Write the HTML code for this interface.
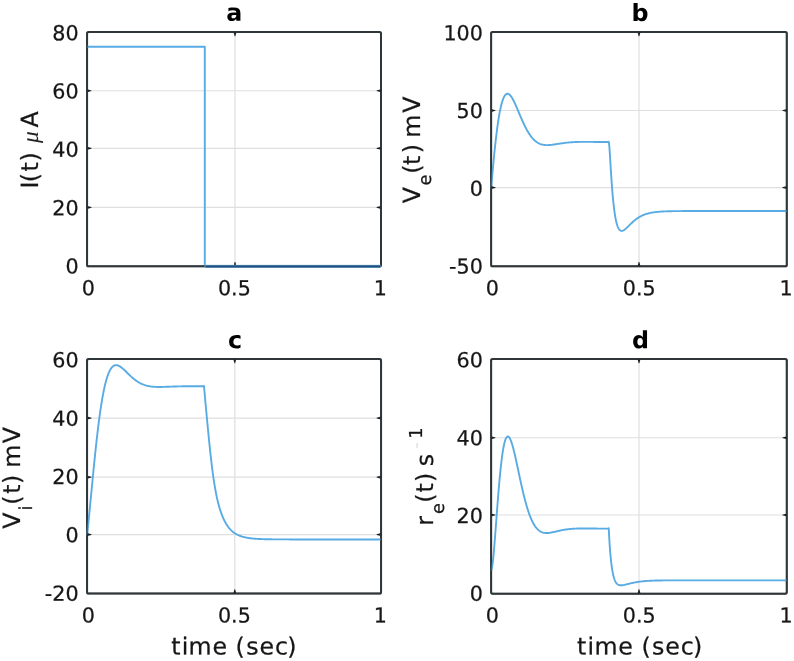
<!DOCTYPE html>
<html lang="en"><head><meta charset="utf-8"><title>Figure</title>
<style>
html,body{margin:0;padding:0;background:#fff;}
svg{display:block;width:794px;height:661px;will-change:transform;filter:blur(0.4px);}
text{font-family:"DejaVu Sans","Liberation Sans",sans-serif;text-rendering:geometricPrecision;}
.tk{font-size:20.7px;fill:#161616;stroke:#161616;stroke-width:0.25px;}
.lb{font-size:23.7px;fill:#161616;stroke:#161616;stroke-width:0.25px;}
.tt{font-size:23.8px;font-weight:bold;fill:#000;}
.ax{fill:none;stroke:#30373a;stroke-width:2.0;stroke-linejoin:round;}
.tick{fill:#1c2022;stroke:none;}
.gr{stroke:#dfdfdf;stroke-width:1.2;}
.ln{fill:none;stroke:#58ace3;stroke-width:1.9;stroke-linejoin:round;stroke-linecap:butt;}
</style></head><body>
<svg width="794" height="661" viewBox="0 0 794 661" role="img" aria-label="Four panel figure: input current and model responses versus time">
<rect x="0" y="0" width="794" height="661" fill="#fff"/>
<g id="panel-a">
<line class="gr" x1="87.05" x2="381" y1="207.45" y2="207.45"/>
<line class="gr" x1="87.05" x2="381" y1="148.3" y2="148.3"/>
<line class="gr" x1="87.05" x2="381" y1="90.75" y2="90.75"/>
<line class="gr" x1="235" x2="235" y1="31.9" y2="266.35"/>
<rect class="ax" x="87.05" y="31.9" width="293.95" height="234.45" rx="1.6"/>
<path class="ln" d="M87.05,46.8L204.8,46.8L204.8,266.35L381,266.35"/>
<path class="tick" d="M87.05,205.95L91.45,207.1L91.45,207.8L87.05,208.95Z"/>
<path class="tick" d="M381,205.95L376.6,207.1L376.6,207.8L381,208.95Z"/>
<path class="tick" d="M87.05,146.8L91.45,147.95L91.45,148.65L87.05,149.8Z"/>
<path class="tick" d="M381,146.8L376.6,147.95L376.6,148.65L381,149.8Z"/>
<path class="tick" d="M87.05,89.25L91.45,90.4L91.45,91.1L87.05,92.25Z"/>
<path class="tick" d="M381,89.25L376.6,90.4L376.6,91.1L381,92.25Z"/>
<path class="tick" d="M233.5,266.35L234.65,261.95L235.35,261.95L236.5,266.35Z"/>
<path class="tick" d="M233.5,31.9L234.65,36.3L235.35,36.3L236.5,31.9Z"/>
<line x1="205" x2="381" y1="266.35" y2="266.35" stroke="#9fd3f0" stroke-width="3.4"/>
<rect class="ax" opacity="0.55" x="87.05" y="31.9" width="293.95" height="234.45" rx="1.6"/>
<line x1="205.6" x2="380.4" y1="266.45" y2="266.45" stroke="#1b4f86" stroke-width="2.1"/>
<text class="tk" text-anchor="end" transform="rotate(0.03 78.6 273.48)" x="78.6" y="273.48">0</text>
<text class="tk" text-anchor="end" transform="rotate(0.03 78.6 215.18)" x="78.6" y="215.18">20</text>
<text class="tk" text-anchor="end" transform="rotate(0.03 78.6 156.88)" x="78.6" y="156.88">40</text>
<text class="tk" text-anchor="end" transform="rotate(0.03 78.6 98.58)" x="78.6" y="98.58">60</text>
<text class="tk" text-anchor="end" transform="rotate(0.03 78.6 40.28)" x="78.6" y="40.28">80</text>
<text class="tk" text-anchor="middle" transform="rotate(0.03 88.35 295.2)" x="88.35" y="295.2">0</text>
<text class="tk" text-anchor="middle" transform="rotate(0.03 234.38 295.2)" x="234.38" y="295.2">0.5</text>
<text class="tk" text-anchor="middle" transform="rotate(0.03 380.4 295.2)" x="380.4" y="295.2">1</text>
<text class="tt" text-anchor="middle" transform="rotate(0.03 234.3 20.8)" x="234.3" y="20.8">a</text>
</g>
<g id="panel-b">
<line class="gr" x1="491.1" x2="786.8" y1="187.6" y2="187.6"/>
<line class="gr" x1="491.1" x2="786.8" y1="110.5" y2="110.5"/>
<line class="gr" x1="639" x2="639" y1="31.95" y2="266.35"/>
<rect class="ax" x="491.1" y="31.95" width="295.7" height="234.4" rx="1.6"/>
<path class="ln" d="M491.2,187.8L491.26,187.1L491.32,186.41L491.38,185.71L491.44,185.01L491.49,184.32L491.55,183.62L491.61,182.92L491.67,182.23L491.73,181.53L491.79,180.83L491.85,180.14L491.91,179.44L491.97,178.74L492.03,178.05L492.09,177.35L492.15,176.65L492.22,175.96L492.28,175.26L492.34,174.56L492.4,173.87L492.46,173.17L492.52,172.47L492.59,171.78L492.65,171.08L492.71,170.39L492.77,169.69L492.84,168.99L492.9,168.3L492.96,167.6L493.03,166.91L493.09,166.21L493.16,165.51L493.22,164.82L493.29,164.12L493.35,163.43L493.42,162.73L493.48,162.04L493.55,161.34L493.62,160.65L493.68,159.95L493.75,159.25L493.82,158.56L493.88,157.86L493.95,157.17L494.02,156.47L494.09,155.78L494.16,155.08L494.23,154.39L494.3,153.69L494.37,153L494.44,152.3L494.51,151.61L494.58,150.91L494.65,150.22L494.72,149.53L494.8,148.83L494.87,148.14L494.94,147.44L495.02,146.75L495.09,146.05L495.17,145.36L495.24,144.67L495.32,143.97L495.39,143.28L495.47,142.59L495.55,141.89L495.63,141.2L495.71,140.51L495.78,139.81L495.86,139.12L495.94,138.43L496.03,137.73L496.11,137.04L496.19,136.35L496.27,135.66L496.36,134.96L496.44,134.27L496.53,133.58L496.61,132.89L496.7,132.2L496.79,131.5L496.88,130.81L496.97,130.12L497.06,129.43L497.15,128.74L497.24,128.05L497.33,127.36L497.43,126.67L497.52,125.98L497.62,125.29L497.72,124.6L497.81,123.91L497.91,123.22L498.02,122.53L498.12,121.85L498.22,121.16L498.33,120.47L498.43,119.78L498.54,119.1L498.65,118.41L498.76,117.72L498.88,117.04L498.99,116.35L499.11,115.67L499.23,114.98L499.35,114.3L499.47,113.62L499.6,112.93L499.72,112.25L499.85,111.57L499.99,110.89L500.12,110.21L500.26,109.53L500.4,108.85L500.55,108.18L500.7,107.5L500.85,106.83L501.01,106.16L501.17,105.48L501.34,104.82L501.51,104.15L501.69,103.48L501.87,102.82L502.06,102.16L502.26,101.5L502.47,100.85L502.68,100.2L502.91,99.56L503.15,98.92L503.4,98.29L503.67,97.66L503.96,97.05L504.27,96.46L504.61,95.88L504.98,95.33L505.4,94.82L505.87,94.36L506.41,94L507.02,93.77L507.71,93.74L508.4,93.93L509.05,94.29L509.62,94.75L510.14,95.27L510.61,95.83L511.05,96.4L511.46,96.99L511.85,97.59L512.22,98.2L512.58,98.82L512.92,99.44L513.25,100.07L513.58,100.69L513.9,101.33L514.21,101.96L514.51,102.6L514.81,103.24L515.11,103.88L515.4,104.52L515.69,105.16L515.97,105.8L516.26,106.45L516.54,107.09L516.81,107.73L517.09,108.38L517.36,109.02L517.64,109.67L517.91,110.32L518.18,110.96L518.45,111.61L518.73,112.25L519,112.9L519.27,113.54L519.54,114.19L519.81,114.83L520.08,115.48L520.36,116.12L520.63,116.76L520.91,117.4L521.18,118.04L521.46,118.69L521.74,119.33L522.02,119.96L522.3,120.6L522.59,121.24L522.88,121.87L523.17,122.51L523.46,123.14L523.75,123.77L524.05,124.4L524.35,125.03L524.66,125.65L524.96,126.28L525.28,126.9L525.59,127.52L525.91,128.14L526.24,128.75L526.57,129.36L526.9,129.97L527.24,130.58L527.58,131.18L527.94,131.78L528.29,132.37L528.66,132.96L529.03,133.55L529.41,134.13L529.8,134.7L530.19,135.27L530.59,135.84L531.01,136.39L531.43,136.94L531.87,137.48L532.31,138L532.77,138.52L533.24,139.03L533.72,139.53L534.21,140.01L534.72,140.48L535.24,140.93L535.78,141.37L536.33,141.78L536.89,142.18L537.47,142.55L538.07,142.91L538.68,143.23L539.3,143.54L539.94,143.81L540.59,144.06L541.25,144.28L541.91,144.48L542.59,144.64L543.27,144.78L543.96,144.89L544.65,144.98L545.35,145.05L546.05,145.09L546.75,145.11L547.45,145.11L548.15,145.1L548.85,145.07L549.55,145.03L550.24,144.97L550.94,144.91L551.64,144.83L552.33,144.75L553.03,144.66L553.72,144.56L554.42,144.46L555.11,144.36L555.8,144.25L556.49,144.14L557.18,144.03L557.87,143.92L558.57,143.81L559.26,143.7L559.95,143.6L560.64,143.49L561.33,143.39L562.02,143.28L562.72,143.19L563.41,143.09L564.1,143L564.8,142.91L565.49,142.82L566.19,142.74L566.88,142.66L567.58,142.59L568.28,142.52L568.97,142.45L569.67,142.39L570.37,142.33L571.06,142.28L571.76,142.23L572.46,142.18L573.16,142.14L573.86,142.1L574.56,142.06L575.26,142.03L575.96,142L576.65,141.98L577.35,141.95L578.05,141.93L578.75,141.92L579.45,141.9L580.15,141.89L580.85,141.88L581.55,141.87L582.25,141.87L582.95,141.86L583.65,141.86L584.35,141.86L585.05,141.86L585.75,141.86L586.45,141.86L587.15,141.86L587.85,141.87L588.55,141.87L589.25,141.88L589.95,141.89L590.65,141.89L591.35,141.9L592.05,141.91L592.75,141.92L593.45,141.92L594.15,141.93L594.85,141.94L595.55,141.95L596.25,141.96L596.95,141.97L597.65,141.97L598.35,141.98L599.05,141.99L599.75,142L600.45,142.01L601.15,142.01L601.85,142.02L602.55,142.03L603.25,142.03L603.95,142.04L604.65,142.05L605.35,142.05L606.05,142.06L606.75,142.06L607.45,142.07L608.15,142.07L608.7,142.07L608.7,141.7L609.26,145.54L609.32,146.25L609.38,146.96L609.43,147.67L609.49,148.38L609.54,149.09L609.59,149.79L609.63,150.49L609.68,151.2L609.73,151.9L609.77,152.6L609.82,153.3L609.86,154.01L609.91,154.71L609.95,155.41L610,156.11L610.04,156.81L610.08,157.51L610.13,158.21L610.17,158.91L610.21,159.61L610.25,160.3L610.3,161L610.34,161.7L610.38,162.4L610.43,163.1L610.47,163.8L610.51,164.5L610.55,165.19L610.6,165.89L610.64,166.59L610.68,167.29L610.73,167.99L610.77,168.68L610.81,169.38L610.86,170.08L610.9,170.78L610.94,171.47L610.99,172.17L611.03,172.87L611.08,173.56L611.12,174.26L611.17,174.96L611.21,175.65L611.26,176.35L611.31,177.05L611.35,177.74L611.4,178.44L611.45,179.14L611.5,179.83L611.54,180.53L611.59,181.22L611.64,181.92L611.69,182.62L611.74,183.31L611.79,184.01L611.84,184.7L611.89,185.4L611.95,186.09L612,186.79L612.05,187.48L612.1,188.18L612.16,188.87L612.21,189.57L612.27,190.26L612.32,190.96L612.38,191.65L612.44,192.34L612.5,193.04L612.56,193.73L612.62,194.42L612.68,195.12L612.74,195.81L612.8,196.5L612.86,197.2L612.93,197.89L612.99,198.58L613.06,199.27L613.13,199.97L613.2,200.66L613.26,201.35L613.34,202.04L613.41,202.73L613.48,203.42L613.55,204.11L613.63,204.8L613.71,205.49L613.79,206.18L613.87,206.87L613.95,207.56L614.03,208.25L614.12,208.94L614.21,209.62L614.3,210.31L614.39,211L614.48,211.68L614.58,212.37L614.68,213.05L614.78,213.74L614.88,214.42L614.99,215.1L615.1,215.78L615.22,216.46L615.34,217.14L615.46,217.82L615.58,218.5L615.72,219.17L615.85,219.84L615.99,220.52L616.14,221.19L616.3,221.85L616.46,222.52L616.63,223.18L616.81,223.84L617,224.49L617.2,225.14L617.42,225.78L617.65,226.41L617.9,227.04L618.17,227.65L618.47,228.25L618.8,228.82L619.17,229.36L619.59,229.86L620.08,230.3L620.64,230.63L621.27,230.83L621.96,230.85L622.66,230.7L623.33,230.43L623.96,230.08L624.55,229.68L625.12,229.25L625.67,228.8L626.2,228.33L626.72,227.85L627.23,227.36L627.73,226.87L628.23,226.38L628.72,225.88L629.22,225.38L629.71,224.89L630.21,224.4L630.71,223.91L631.21,223.42L631.71,222.94L632.22,222.47L632.73,221.99L633.25,221.53L633.78,221.07L634.31,220.62L634.85,220.18L635.39,219.75L635.94,219.33L636.5,218.91L637.07,218.51L637.64,218.12L638.23,217.74L638.82,217.37L639.41,217.01L640.02,216.67L640.63,216.34L641.25,216.02L641.88,215.72L642.51,215.43L643.15,215.15L643.79,214.88L644.44,214.63L645.1,214.39L645.76,214.17L646.42,213.96L647.09,213.75L647.76,213.56L648.44,213.39L649.12,213.22L649.8,213.06L650.48,212.92L651.17,212.78L651.86,212.65L652.54,212.53L653.23,212.42L653.93,212.32L654.62,212.22L655.31,212.13L656.01,212.05L656.7,211.97L657.4,211.9L658.1,211.83L658.79,211.77L659.49,211.71L660.19,211.66L660.89,211.61L661.58,211.57L662.28,211.52L662.98,211.49L663.68,211.45L664.38,211.42L665.08,211.39L665.78,211.36L666.48,211.33L667.18,211.31L667.88,211.29L668.58,211.26L669.28,211.25L669.98,211.23L670.68,211.21L671.38,211.2L672.08,211.18L672.78,211.17L673.48,211.16L674.18,211.15L674.88,211.14L675.58,211.13L676.28,211.12L676.98,211.11L677.68,211.11L678.38,211.1L679.08,211.1L679.78,211.09L680.48,211.08L681.18,211.08L681.88,211.08L682.58,211.07L683.28,211.07L683.98,211.07L684.68,211.06L685.38,211.06L686.08,211.06L686.78,211.05L687.48,211.05L688.18,211.05L688.88,211.05L689.58,211.05L690.28,211.05L690.98,211.04L691.68,211.04L692.38,211.04L693.08,211.04L693.78,211.04L694.48,211.04L695.18,211.04L695.88,211.04L696.58,211.04L697.28,211.04L697.98,211.04L698.68,211.03L699.38,211.03L700.08,211.03L700.78,211.03L701.48,211.03L702.18,211.03L702.88,211.03L703.58,211.03L704.28,211.03L704.98,211.03L705.68,211.03L706.38,211.03L707.08,211.03L707.78,211.03L708.48,211.03L709.18,211.03L709.88,211.03L710.58,211.03L711.28,211.03L711.98,211.03L712.68,211.03L713.38,211.03L714.08,211.03L714.78,211.03L715.48,211.03L716.18,211.03L716.88,211.03L717.58,211.03L718.28,211.03L718.98,211.03L719.68,211.03L720.38,211.03L721.08,211.03L721.78,211.03L722.48,211.03L723.18,211.03L723.88,211.03L724.58,211.03L725.28,211.03L725.98,211.03L726.68,211.03L727.38,211.03L728.08,211.03L728.78,211.03L729.48,211.03L730.18,211.03L730.88,211.03L731.58,211.03L732.28,211.03L732.98,211.03L733.68,211.03L734.38,211.03L735.08,211.03L735.78,211.03L736.48,211.03L737.18,211.03L737.88,211.03L738.58,211.03L739.28,211.03L739.98,211.03L740.68,211.03L741.38,211.03L742.08,211.03L742.78,211.03L743.48,211.03L744.18,211.03L744.88,211.03L745.58,211.03L746.28,211.03L746.98,211.03L747.68,211.03L748.38,211.03L749.08,211.03L749.78,211.03L750.48,211.03L751.18,211.03L751.88,211.03L752.58,211.03L753.28,211.03L753.98,211.03L754.68,211.03L755.38,211.03L756.08,211.03L756.78,211.03L757.48,211.03L758.18,211.03L758.88,211.03L759.58,211.03L760.28,211.03L760.98,211.03L761.68,211.03L762.38,211.03L763.08,211.03L763.78,211.03L764.48,211.03L765.18,211.03L765.88,211.03L766.58,211.03L767.28,211.03L767.98,211.03L768.68,211.03L769.38,211.03L770.08,211.03L770.78,211.03L771.48,211.03L772.18,211.03L772.88,211.03L773.58,211.03L774.28,211.03L774.98,211.03L775.68,211.03L776.38,211.03L777.08,211.03L777.78,211.03L778.48,211.03L779.18,211.03L779.88,211.03L780.58,211.03L781.28,211.03L781.98,211.03L782.68,211.03L783.38,211.03L784.08,211.03L784.78,211.03L785.48,211.03L786.18,211.03L786.8,211.03"/>
<path class="tick" d="M491.1,186.1L495.5,187.25L495.5,187.95L491.1,189.1Z"/>
<path class="tick" d="M786.8,186.1L782.4,187.25L782.4,187.95L786.8,189.1Z"/>
<path class="tick" d="M491.1,109L495.5,110.15L495.5,110.85L491.1,112Z"/>
<path class="tick" d="M786.8,109L782.4,110.15L782.4,110.85L786.8,112Z"/>
<path class="tick" d="M637.5,266.35L638.65,261.95L639.35,261.95L640.5,266.35Z"/>
<path class="tick" d="M637.5,31.95L638.65,36.35L639.35,36.35L640.5,31.95Z"/>
<rect class="ax" opacity="0.55" x="491.1" y="31.95" width="295.7" height="234.4" rx="1.6"/>
<text class="tk" text-anchor="end" transform="rotate(0.03 482.9 273.48)" x="482.9" y="273.48">-50</text>
<text class="tk" text-anchor="end" transform="rotate(0.03 482.9 195.77)" x="482.9" y="195.77">0</text>
<text class="tk" text-anchor="end" transform="rotate(0.03 482.9 118.05)" x="482.9" y="118.05">50</text>
<text class="tk" text-anchor="end" transform="rotate(0.03 482.9 40.33)" x="482.9" y="40.33">100</text>
<text class="tk" text-anchor="middle" transform="rotate(0.03 492.4 295.2)" x="492.4" y="295.2">0</text>
<text class="tk" text-anchor="middle" transform="rotate(0.03 639.3 295.2)" x="639.3" y="295.2">0.5</text>
<text class="tk" text-anchor="middle" transform="rotate(0.03 786.2 295.2)" x="786.2" y="295.2">1</text>
<text class="tt" text-anchor="middle" transform="rotate(0.03 640.1 20.9)" x="640.1" y="20.9">b</text>
</g>
<g id="panel-c">
<line class="gr" x1="87.05" x2="381.05" y1="534.6" y2="534.6"/>
<line class="gr" x1="87.05" x2="381.05" y1="477.15" y2="477.15"/>
<line class="gr" x1="87.05" x2="381.05" y1="418.05" y2="418.05"/>
<line class="gr" x1="234.8" x2="234.8" y1="358.95" y2="593.6"/>
<rect class="ax" x="87.05" y="358.95" width="294" height="234.65" rx="1.6"/>
<path class="ln" d="M87.05,534.9L87.13,534.2L87.21,533.5L87.29,532.81L87.37,532.11L87.44,531.41L87.52,530.71L87.6,530.02L87.67,529.32L87.75,528.62L87.82,527.92L87.9,527.22L87.97,526.53L88.05,525.83L88.12,525.13L88.19,524.43L88.27,523.74L88.34,523.04L88.41,522.34L88.49,521.64L88.56,520.95L88.63,520.25L88.7,519.55L88.77,518.85L88.84,518.16L88.91,517.46L88.98,516.76L89.05,516.07L89.12,515.37L89.19,514.67L89.26,513.97L89.33,513.28L89.4,512.58L89.47,511.88L89.54,511.18L89.61,510.49L89.68,509.79L89.74,509.09L89.81,508.4L89.88,507.7L89.95,507L90.02,506.3L90.08,505.61L90.15,504.91L90.22,504.21L90.29,503.52L90.35,502.82L90.42,502.12L90.49,501.42L90.56,500.73L90.62,500.03L90.69,499.33L90.76,498.64L90.83,497.94L90.89,497.24L90.96,496.55L91.03,495.85L91.09,495.15L91.16,494.45L91.23,493.76L91.29,493.06L91.36,492.36L91.43,491.67L91.49,490.97L91.56,490.27L91.63,489.58L91.7,488.88L91.76,488.18L91.83,487.49L91.9,486.79L91.96,486.09L92.03,485.4L92.1,484.7L92.16,484L92.23,483.31L92.3,482.61L92.37,481.91L92.43,481.22L92.5,480.52L92.57,479.82L92.64,479.13L92.7,478.43L92.77,477.74L92.84,477.04L92.91,476.34L92.97,475.65L93.04,474.95L93.11,474.25L93.18,473.56L93.25,472.86L93.32,472.17L93.38,471.47L93.45,470.77L93.52,470.08L93.59,469.38L93.66,468.68L93.73,467.99L93.8,467.29L93.87,466.6L93.94,465.9L94.01,465.2L94.08,464.51L94.14,463.81L94.22,463.12L94.29,462.42L94.36,461.73L94.43,461.03L94.5,460.33L94.57,459.64L94.64,458.94L94.71,458.25L94.78,457.55L94.85,456.86L94.92,456.16L95,455.47L95.07,454.77L95.14,454.07L95.21,453.38L95.29,452.68L95.36,451.99L95.43,451.29L95.51,450.6L95.58,449.9L95.65,449.21L95.73,448.51L95.8,447.82L95.88,447.12L95.95,446.43L96.03,445.73L96.1,445.04L96.18,444.34L96.26,443.65L96.33,442.96L96.41,442.26L96.49,441.57L96.56,440.87L96.64,440.18L96.72,439.48L96.8,438.79L96.88,438.09L96.96,437.4L97.04,436.71L97.12,436.01L97.2,435.32L97.28,434.62L97.36,433.93L97.44,433.24L97.52,432.54L97.6,431.85L97.68,431.16L97.77,430.46L97.85,429.77L97.93,429.08L98.02,428.38L98.1,427.69L98.19,427L98.27,426.3L98.36,425.61L98.45,424.92L98.53,424.22L98.62,423.53L98.71,422.84L98.8,422.15L98.89,421.46L98.98,420.76L99.07,420.07L99.16,419.38L99.25,418.69L99.34,418L99.44,417.3L99.53,416.61L99.62,415.92L99.72,415.23L99.81,414.54L99.91,413.85L100.01,413.16L100.11,412.47L100.2,411.78L100.3,411.09L100.4,410.4L100.51,409.71L100.61,409.02L100.71,408.33L100.81,407.64L100.92,406.95L101.02,406.26L101.13,405.57L101.24,404.88L101.35,404.19L101.46,403.5L101.57,402.82L101.68,402.13L101.79,401.44L101.91,400.75L102.02,400.07L102.14,399.38L102.26,398.7L102.38,398.01L102.5,397.32L102.62,396.64L102.75,395.95L102.87,395.27L103,394.59L103.13,393.9L103.26,393.22L103.39,392.54L103.53,391.85L103.66,391.17L103.8,390.49L103.94,389.81L104.08,389.13L104.23,388.45L104.38,387.77L104.53,387.09L104.68,386.42L104.84,385.74L104.99,385.07L105.16,384.39L105.32,383.72L105.49,383.04L105.66,382.37L105.84,381.7L106.01,381.03L106.2,380.37L106.39,379.7L106.58,379.04L106.78,378.38L106.98,377.72L107.19,377.06L107.4,376.4L107.63,375.75L107.86,375.1L108.09,374.45L108.34,373.81L108.59,373.17L108.86,372.54L109.14,371.91L109.43,371.29L109.73,370.68L110.05,370.08L110.38,369.49L110.74,368.91L111.12,368.34L111.52,367.8L111.95,367.28L112.42,366.79L112.92,366.34L113.46,365.94L114.04,365.6L114.67,365.35L115.34,365.18L116.03,365.12L116.73,365.16L117.42,365.3L118.1,365.51L118.75,365.79L119.39,366.11L120,366.48L120.59,366.87L121.17,367.28L121.73,367.72L122.28,368.16L122.81,368.62L123.34,369.09L123.86,369.56L124.38,370.04L124.89,370.52L125.39,371.01L125.89,371.5L126.39,371.99L126.89,372.48L127.39,372.98L127.89,373.47L128.39,373.96L128.89,374.44L129.39,374.93L129.9,375.41L130.4,375.89L130.92,376.36L131.43,376.84L131.95,377.3L132.47,377.76L133,378.22L133.53,378.66L134.07,379.1L134.62,379.54L135.17,379.96L135.73,380.38L136.29,380.78L136.86,381.18L137.44,381.57L138.03,381.94L138.62,382.3L139.22,382.65L139.83,382.99L140.45,383.31L141.07,383.62L141.7,383.92L142.34,384.2L142.98,384.47L143.63,384.72L144.29,384.96L144.95,385.18L145.62,385.38L146.29,385.57L146.96,385.75L147.64,385.91L148.32,386.06L149.01,386.19L149.7,386.31L150.39,386.42L151.08,386.52L151.78,386.6L152.47,386.68L153.17,386.74L153.87,386.79L154.56,386.84L155.26,386.88L155.96,386.91L156.66,386.93L157.36,386.94L158.06,386.95L158.76,386.96L159.46,386.96L160.16,386.95L160.86,386.95L161.56,386.93L162.26,386.92L162.96,386.9L163.66,386.88L164.36,386.86L165.06,386.84L165.76,386.82L166.46,386.79L167.16,386.77L167.86,386.74L168.56,386.72L169.26,386.69L169.96,386.66L170.66,386.64L171.36,386.61L172.06,386.59L172.75,386.56L173.45,386.54L174.15,386.52L174.85,386.5L175.55,386.48L176.25,386.46L176.95,386.44L177.65,386.42L178.35,386.4L179.05,386.38L179.75,386.37L180.45,386.36L181.15,386.34L181.85,386.33L182.55,386.32L183.25,386.31L183.95,386.3L184.65,386.29L185.35,386.28L186.05,386.28L186.75,386.27L187.45,386.26L188.15,386.26L188.85,386.25L189.55,386.25L190.25,386.25L190.95,386.25L191.65,386.24L192.35,386.24L193.05,386.24L193.75,386.24L194.45,386.24L195.15,386.24L195.85,386.24L196.55,386.24L197.25,386.24L197.95,386.24L198.65,386.24L199.35,386.25L200.05,386.25L200.75,386.25L201.45,386.25L202.15,386.25L202.85,386.25L203.55,386.26L204,386.26L204,385.9L204.06,386.6L204.12,387.29L204.17,387.99L204.23,388.68L204.29,389.38L204.35,390.08L204.41,390.77L204.47,391.47L204.53,392.16L204.59,392.86L204.66,393.56L204.72,394.25L204.78,394.95L204.84,395.64L204.9,396.34L204.96,397.04L205.03,397.73L205.09,398.43L205.15,399.13L205.22,399.82L205.28,400.52L205.34,401.21L205.41,401.91L205.47,402.61L205.53,403.3L205.6,404L205.66,404.7L205.72,405.39L205.79,406.09L205.85,406.79L205.92,407.48L205.98,408.18L206.05,408.88L206.11,409.57L206.18,410.27L206.24,410.97L206.31,411.66L206.37,412.36L206.44,413.06L206.5,413.75L206.57,414.45L206.63,415.15L206.7,415.84L206.76,416.54L206.83,417.24L206.9,417.93L206.96,418.63L207.03,419.33L207.09,420.02L207.16,420.72L207.22,421.41L207.29,422.11L207.36,422.81L207.42,423.5L207.49,424.2L207.56,424.9L207.62,425.59L207.69,426.29L207.76,426.99L207.82,427.68L207.89,428.38L207.96,429.07L208.03,429.77L208.09,430.47L208.16,431.16L208.23,431.86L208.3,432.56L208.36,433.25L208.43,433.95L208.5,434.64L208.57,435.34L208.64,436.04L208.71,436.73L208.77,437.43L208.84,438.12L208.91,438.82L208.98,439.51L209.05,440.21L209.12,440.9L209.19,441.6L209.26,442.3L209.33,442.99L209.4,443.69L209.48,444.38L209.55,445.08L209.62,445.77L209.69,446.47L209.76,447.16L209.84,447.86L209.91,448.55L209.98,449.25L210.06,449.94L210.13,450.64L210.2,451.33L210.28,452.03L210.35,452.72L210.43,453.41L210.5,454.11L210.58,454.8L210.66,455.5L210.73,456.19L210.81,456.88L210.89,457.58L210.97,458.27L211.05,458.97L211.13,459.66L211.21,460.35L211.29,461.05L211.37,461.74L211.45,462.43L211.53,463.13L211.61,463.82L211.7,464.51L211.78,465.2L211.87,465.9L211.95,466.59L212.04,467.28L212.12,467.97L212.21,468.66L212.3,469.36L212.39,470.05L212.48,470.74L212.57,471.43L212.66,472.12L212.75,472.81L212.84,473.5L212.94,474.19L213.03,474.88L213.13,475.58L213.22,476.27L213.32,476.96L213.42,477.64L213.52,478.33L213.62,479.02L213.72,479.71L213.82,480.4L213.93,481.09L214.03,481.78L214.14,482.47L214.25,483.15L214.36,483.84L214.47,484.53L214.58,485.22L214.69,485.9L214.81,486.59L214.92,487.27L215.04,487.96L215.16,488.64L215.28,489.33L215.41,490.01L215.53,490.7L215.66,491.38L215.79,492.06L215.92,492.75L216.05,493.43L216.19,494.11L216.32,494.79L216.46,495.47L216.6,496.15L216.75,496.83L216.89,497.51L217.04,498.19L217.19,498.87L217.35,499.54L217.5,500.22L217.66,500.9L217.83,501.57L217.99,502.24L218.16,502.92L218.33,503.59L218.51,504.26L218.69,504.93L218.87,505.6L219.05,506.27L219.24,506.93L219.44,507.6L219.64,508.26L219.84,508.93L220.04,509.59L220.25,510.25L220.47,510.91L220.69,511.56L220.91,512.22L221.14,512.87L221.38,513.52L221.62,514.17L221.87,514.82L222.12,515.46L222.38,516.11L222.64,516.75L222.91,517.38L223.19,518.02L223.47,518.65L223.76,519.28L224.06,519.9L224.36,520.52L224.68,521.14L225,521.75L225.33,522.36L225.67,522.96L226.01,523.56L226.37,524.15L226.74,524.73L227.12,525.31L227.5,525.88L227.9,526.45L228.31,527L228.73,527.55L229.17,528.09L229.61,528.62L230.07,529.13L230.54,529.64L231.02,530.13L231.52,530.61L232.03,531.08L232.55,531.54L233.08,531.98L233.63,532.4L234.19,532.81L234.76,533.2L235.34,533.58L235.94,533.94L236.54,534.28L237.15,534.61L237.77,534.92L238.41,535.21L239.04,535.49L239.69,535.76L240.34,536L241,536.24L241.66,536.45L242.33,536.66L243,536.85L243.67,537.03L244.35,537.2L245.03,537.36L245.71,537.5L246.4,537.64L247.09,537.77L247.78,537.89L248.47,538L249.16,538.1L249.85,538.2L250.55,538.29L251.24,538.37L251.94,538.45L252.63,538.52L253.33,538.58L254.03,538.65L254.72,538.7L255.42,538.76L256.12,538.81L256.82,538.85L257.52,538.89L258.21,538.93L258.91,538.97L259.61,539L260.31,539.04L261.01,539.06L261.71,539.09L262.41,539.12L263.11,539.14L263.81,539.16L264.51,539.18L265.21,539.2L265.91,539.22L266.61,539.24L267.31,539.25L268.01,539.26L268.71,539.28L269.41,539.29L270.11,539.3L270.81,539.31L271.51,539.32L272.21,539.33L272.91,539.34L273.61,539.34L274.31,539.35L275.01,539.36L275.71,539.36L276.41,539.37L277.11,539.38L277.81,539.38L278.51,539.39L279.21,539.39L279.91,539.39L280.61,539.4L281.31,539.4L282.01,539.4L282.71,539.41L283.41,539.41L284.11,539.41L284.81,539.41L285.51,539.42L286.21,539.42L286.91,539.42L287.61,539.42L288.31,539.42L289.01,539.42L289.71,539.43L290.41,539.43L291.11,539.43L291.81,539.43L292.51,539.43L293.21,539.43L293.91,539.43L294.61,539.43L295.31,539.43L296.01,539.43L296.71,539.44L297.41,539.44L298.11,539.44L298.81,539.44L299.51,539.44L300.21,539.44L300.91,539.44L301.61,539.44L302.31,539.44L303.01,539.44L303.71,539.44L304.41,539.44L305.11,539.44L305.81,539.44L306.51,539.44L307.21,539.44L307.91,539.44L308.61,539.44L309.31,539.44L310.01,539.44L310.71,539.44L311.41,539.44L312.11,539.44L312.81,539.44L313.51,539.44L314.21,539.44L314.91,539.44L315.61,539.44L316.31,539.44L317.01,539.44L317.71,539.44L318.41,539.44L319.11,539.44L319.81,539.44L320.51,539.44L321.21,539.44L321.91,539.44L322.61,539.44L323.31,539.44L324.01,539.44L324.71,539.44L325.41,539.44L326.11,539.44L326.81,539.44L327.51,539.44L328.21,539.44L328.91,539.44L329.61,539.44L330.31,539.44L331.01,539.44L331.71,539.44L332.41,539.44L333.11,539.44L333.81,539.44L334.51,539.44L335.21,539.44L335.91,539.44L336.61,539.44L337.31,539.44L338.01,539.44L338.71,539.44L339.41,539.44L340.11,539.44L340.81,539.44L341.51,539.44L342.21,539.44L342.91,539.44L343.61,539.44L344.31,539.44L345.01,539.44L345.71,539.44L346.41,539.44L347.11,539.44L347.81,539.44L348.51,539.44L349.21,539.44L349.91,539.44L350.61,539.44L351.31,539.44L352.01,539.44L352.71,539.44L353.41,539.44L354.11,539.44L354.81,539.44L355.51,539.44L356.21,539.44L356.91,539.44L357.61,539.44L358.31,539.44L359.01,539.44L359.71,539.44L360.41,539.44L361.11,539.44L361.81,539.44L362.51,539.44L363.21,539.44L363.91,539.44L364.61,539.44L365.31,539.44L366.01,539.44L366.71,539.44L367.41,539.44L368.11,539.44L368.81,539.44L369.51,539.44L370.21,539.44L370.91,539.44L371.61,539.44L372.31,539.44L373.01,539.44L373.71,539.44L374.41,539.44L375.11,539.44L375.81,539.44L376.51,539.44L377.21,539.44L377.91,539.44L378.61,539.44L379.31,539.44L380.01,539.44L380.71,539.44L381,539.44"/>
<path class="tick" d="M87.05,533.1L91.45,534.25L91.45,534.95L87.05,536.1Z"/>
<path class="tick" d="M381.05,533.1L376.65,534.25L376.65,534.95L381.05,536.1Z"/>
<path class="tick" d="M87.05,475.65L91.45,476.8L91.45,477.5L87.05,478.65Z"/>
<path class="tick" d="M381.05,475.65L376.65,476.8L376.65,477.5L381.05,478.65Z"/>
<path class="tick" d="M87.05,416.55L91.45,417.7L91.45,418.4L87.05,419.55Z"/>
<path class="tick" d="M381.05,416.55L376.65,417.7L376.65,418.4L381.05,419.55Z"/>
<path class="tick" d="M233.3,593.6L234.45,589.2L235.15,589.2L236.3,593.6Z"/>
<path class="tick" d="M233.3,358.95L234.45,363.35L235.15,363.35L236.3,358.95Z"/>
<rect class="ax" opacity="0.55" x="87.05" y="358.95" width="294" height="234.65" rx="1.6"/>
<text class="tk" text-anchor="end" transform="rotate(0.03 78.6 600.73)" x="78.6" y="600.73">-20</text>
<text class="tk" text-anchor="end" transform="rotate(0.03 78.6 542.38)" x="78.6" y="542.38">0</text>
<text class="tk" text-anchor="end" transform="rotate(0.03 78.6 484.03)" x="78.6" y="484.03">20</text>
<text class="tk" text-anchor="end" transform="rotate(0.03 78.6 425.68)" x="78.6" y="425.68">40</text>
<text class="tk" text-anchor="end" transform="rotate(0.03 78.6 367.33)" x="78.6" y="367.33">60</text>
<text class="tk" text-anchor="middle" transform="rotate(0.03 88.35 622.45)" x="88.35" y="622.45">0</text>
<text class="tk" text-anchor="middle" transform="rotate(0.03 234.4 622.45)" x="234.4" y="622.45">0.5</text>
<text class="tk" text-anchor="middle" transform="rotate(0.03 380.45 622.45)" x="380.45" y="622.45">1</text>
<text class="tt" text-anchor="middle" transform="rotate(0.03 235 348.3)" x="235" y="348.3">c</text>
</g>
<g id="panel-d">
<line class="gr" x1="491.1" x2="786.8" y1="515" y2="515"/>
<line class="gr" x1="491.1" x2="786.8" y1="437.75" y2="437.75"/>
<line class="gr" x1="639" x2="639" y1="358.95" y2="593.65"/>
<rect class="ax" x="491.1" y="358.95" width="295.7" height="234.7" rx="1.6"/>
<path class="ln" d="M491.3,570.3L491.67,569.32L491.85,568.56L492,567.83L492.12,567.11L492.24,566.39L492.35,565.68L492.45,564.97L492.54,564.26L492.63,563.55L492.72,562.84L492.8,562.14L492.88,561.43L492.96,560.73L493.04,560.02L493.11,559.32L493.19,558.62L493.26,557.92L493.33,557.21L493.39,556.51L493.46,555.81L493.53,555.11L493.59,554.41L493.66,553.71L493.72,553L493.78,552.3L493.85,551.6L493.91,550.9L493.97,550.2L494.03,549.5L494.09,548.8L494.15,548.1L494.2,547.4L494.26,546.7L494.32,546L494.38,545.3L494.43,544.6L494.49,543.9L494.55,543.21L494.6,542.51L494.66,541.81L494.71,541.11L494.77,540.41L494.82,539.71L494.88,539.01L494.93,538.31L494.99,537.61L495.04,536.91L495.09,536.21L495.15,535.52L495.2,534.82L495.25,534.12L495.31,533.42L495.36,532.72L495.41,532.02L495.46,531.32L495.52,530.62L495.57,529.93L495.62,529.23L495.67,528.53L495.73,527.83L495.78,527.13L495.83,526.43L495.88,525.74L495.93,525.04L495.99,524.34L496.04,523.64L496.09,522.94L496.14,522.25L496.19,521.55L496.25,520.85L496.3,520.15L496.35,519.45L496.4,518.76L496.45,518.06L496.51,517.36L496.56,516.66L496.61,515.96L496.66,515.27L496.71,514.57L496.77,513.87L496.82,513.17L496.87,512.48L496.92,511.78L496.98,511.08L497.03,510.38L497.08,509.69L497.14,508.99L497.19,508.29L497.24,507.59L497.29,506.9L497.35,506.2L497.4,505.5L497.46,504.8L497.51,504.11L497.56,503.41L497.62,502.71L497.67,502.02L497.73,501.32L497.78,500.62L497.84,499.93L497.89,499.23L497.95,498.53L498,497.84L498.06,497.14L498.11,496.44L498.17,495.75L498.22,495.05L498.28,494.35L498.34,493.66L498.39,492.96L498.45,492.26L498.51,491.57L498.57,490.87L498.63,490.17L498.68,489.48L498.74,488.78L498.8,488.09L498.86,487.39L498.92,486.69L498.98,486L499.04,485.3L499.1,484.61L499.16,483.91L499.22,483.22L499.29,482.52L499.35,481.83L499.41,481.13L499.47,480.44L499.54,479.74L499.6,479.05L499.67,478.35L499.73,477.66L499.8,476.96L499.86,476.27L499.93,475.57L500,474.88L500.06,474.18L500.13,473.49L500.2,472.8L500.27,472.1L500.34,471.41L500.41,470.72L500.48,470.02L500.55,469.33L500.63,468.64L500.7,467.94L500.77,467.25L500.85,466.56L500.93,465.87L501,465.17L501.08,464.48L501.16,463.79L501.24,463.1L501.32,462.41L501.4,461.72L501.49,461.03L501.57,460.34L501.66,459.65L501.74,458.96L501.83,458.27L501.92,457.58L502.01,456.89L502.1,456.2L502.2,455.51L502.3,454.83L502.39,454.14L502.49,453.45L502.6,452.77L502.7,452.08L502.81,451.4L502.92,450.71L503.03,450.03L503.14,449.35L503.26,448.67L503.38,447.99L503.51,447.31L503.64,446.63L503.77,445.96L503.91,445.28L504.05,444.61L504.2,443.94L504.36,443.28L504.53,442.61L504.7,441.95L504.88,441.3L505.08,440.65L505.29,440.01L505.52,439.38L505.77,438.76L506.04,438.17L506.36,437.6L506.74,437.09L507.19,436.68L507.78,436.48L508.48,436.7L509.07,437.23L509.52,437.85L509.9,438.5L510.23,439.15L510.53,439.82L510.81,440.48L511.07,441.16L511.31,441.83L511.55,442.5L511.77,443.18L511.99,443.86L512.19,444.54L512.4,445.22L512.59,445.9L512.78,446.58L512.97,447.26L513.16,447.94L513.34,448.63L513.51,449.31L513.69,449.99L513.86,450.68L514.03,451.36L514.19,452.04L514.36,452.73L514.52,453.41L514.68,454.1L514.84,454.78L515,455.47L515.16,456.15L515.31,456.84L515.47,457.52L515.62,458.21L515.77,458.89L515.93,459.58L516.08,460.26L516.23,460.95L516.38,461.63L516.53,462.32L516.67,463L516.82,463.69L516.97,464.37L517.12,465.06L517.26,465.74L517.41,466.43L517.55,467.11L517.7,467.8L517.85,468.48L517.99,469.17L518.14,469.85L518.28,470.54L518.43,471.22L518.57,471.91L518.72,472.59L518.86,473.28L519.01,473.96L519.15,474.65L519.3,475.33L519.45,476.01L519.59,476.7L519.74,477.38L519.88,478.07L520.03,478.75L520.18,479.43L520.33,480.12L520.48,480.8L520.62,481.48L520.77,482.17L520.92,482.85L521.07,483.53L521.22,484.21L521.38,484.89L521.53,485.58L521.68,486.26L521.84,486.94L521.99,487.62L522.15,488.3L522.3,488.98L522.46,489.66L522.62,490.34L522.78,491.02L522.94,491.7L523.1,492.38L523.26,493.06L523.42,493.74L523.59,494.41L523.75,495.09L523.92,495.77L524.09,496.44L524.26,497.12L524.43,497.8L524.6,498.47L524.78,499.15L524.95,499.82L525.13,500.49L525.31,501.17L525.49,501.84L525.67,502.51L525.86,503.18L526.05,503.85L526.24,504.52L526.43,505.19L526.62,505.86L526.82,506.53L527.02,507.2L527.22,507.86L527.42,508.53L527.63,509.19L527.84,509.85L528.05,510.51L528.27,511.17L528.49,511.83L528.72,512.49L528.94,513.14L529.18,513.8L529.41,514.45L529.65,515.1L529.9,515.75L530.15,516.4L530.4,517.04L530.66,517.68L530.93,518.32L531.2,518.96L531.48,519.59L531.77,520.22L532.06,520.85L532.36,521.47L532.67,522.09L532.99,522.7L533.31,523.31L533.65,523.91L534,524.5L534.36,525.09L534.73,525.67L535.11,526.24L535.51,526.8L535.93,527.35L536.35,527.89L536.8,528.41L537.26,528.92L537.75,529.4L538.25,529.87L538.77,530.32L539.32,530.73L539.88,531.12L540.47,531.48L541.08,531.81L541.7,532.1L542.35,532.35L543.01,532.56L543.68,532.73L544.36,532.86L545.06,532.96L545.75,533.02L546.45,533.04L547.15,533.04L547.85,533.01L548.55,532.96L549.25,532.88L549.94,532.79L550.63,532.68L551.32,532.56L552.01,532.43L552.7,532.29L553.38,532.15L554.07,532L554.75,531.84L555.43,531.68L556.12,531.52L556.8,531.36L557.48,531.2L558.16,531.05L558.84,530.89L559.53,530.74L560.21,530.59L560.89,530.44L561.58,530.3L562.26,530.16L562.95,530.03L563.64,529.91L564.33,529.78L565.02,529.67L565.71,529.56L566.4,529.46L567.09,529.36L567.79,529.27L568.48,529.18L569.18,529.1L569.87,529.03L570.57,528.96L571.27,528.9L571.96,528.84L572.66,528.78L573.36,528.74L574.06,528.69L574.76,528.65L575.45,528.62L576.15,528.59L576.85,528.56L577.55,528.54L578.25,528.52L578.95,528.5L579.65,528.49L580.35,528.47L581.05,528.47L581.75,528.46L582.45,528.45L583.15,528.45L583.85,528.45L584.55,528.45L585.25,528.45L585.95,528.46L586.65,528.46L587.35,528.46L588.05,528.47L588.75,528.48L589.45,528.48L590.15,528.49L590.85,528.5L591.55,528.51L592.25,528.52L592.95,528.53L593.65,528.53L594.35,528.54L595.05,528.55L595.75,528.56L596.45,528.57L597.15,528.58L597.85,528.58L598.55,528.59L599.25,528.6L599.95,528.61L600.65,528.61L601.35,528.62L602.05,528.63L602.75,528.63L603.45,528.64L604.15,528.64L604.85,528.65L605.55,528.65L606.25,528.66L606.95,528.66L607.65,528.66L608.35,528.67L608.7,528.67L608.7,528.1L608.73,528.8L608.77,529.49L608.81,530.19L608.84,530.88L608.88,531.58L608.92,532.28L608.95,532.97L608.99,533.67L609.03,534.36L609.07,535.06L609.11,535.76L609.15,536.45L609.19,537.15L609.23,537.84L609.27,538.54L609.31,539.23L609.36,539.93L609.4,540.62L609.44,541.32L609.49,542.01L609.53,542.7L609.58,543.4L609.62,544.09L609.67,544.79L609.72,545.48L609.77,546.18L609.82,546.87L609.87,547.56L609.92,548.26L609.97,548.95L610.03,549.64L610.08,550.33L610.13,551.03L610.19,551.72L610.25,552.41L610.31,553.1L610.36,553.8L610.42,554.49L610.49,555.18L610.55,555.87L610.61,556.56L610.68,557.25L610.75,557.94L610.82,558.63L610.89,559.32L610.96,560.01L611.03,560.7L611.11,561.39L611.18,562.07L611.26,562.76L611.34,563.45L611.43,564.14L611.51,564.82L611.6,565.51L611.69,566.19L611.79,566.87L611.89,567.56L611.99,568.24L612.09,568.92L612.2,569.6L612.31,570.28L612.42,570.96L612.54,571.63L612.67,572.31L612.8,572.98L612.94,573.65L613.08,574.32L613.23,574.99L613.39,575.66L613.55,576.32L613.73,576.97L613.92,577.63L614.11,578.28L614.33,578.92L614.55,579.56L614.8,580.18L615.07,580.8L615.35,581.4L615.67,581.99L616.02,582.56L616.41,583.1L616.84,583.6L617.32,584.06L617.85,584.46L618.44,584.79L619.07,585.04L619.74,585.2L620.43,585.29L621.13,585.31L621.83,585.27L622.52,585.19L623.22,585.09L623.91,584.96L624.59,584.81L625.28,584.65L625.96,584.49L626.64,584.32L627.32,584.15L627.99,583.98L628.67,583.81L629.35,583.64L630.03,583.47L630.71,583.31L631.39,583.15L632.08,583L632.76,582.85L633.44,582.71L634.13,582.57L634.82,582.44L635.51,582.31L636.19,582.19L636.88,582.07L637.57,581.96L638.27,581.86L638.96,581.76L639.65,581.66L640.35,581.57L641.04,581.49L641.74,581.41L642.43,581.33L643.13,581.26L643.82,581.2L644.52,581.13L645.22,581.07L645.92,581.02L646.61,580.97L647.31,580.92L648.01,580.87L648.71,580.83L649.41,580.79L650.11,580.76L650.81,580.72L651.51,580.69L652.21,580.66L652.9,580.63L653.6,580.61L654.3,580.59L655,580.56L655.7,580.54L656.4,580.53L657.1,580.51L657.8,580.5L658.5,580.48L659.2,580.47L659.9,580.46L660.6,580.45L661.3,580.44L662,580.43L662.7,580.42L663.4,580.42L664.1,580.41L664.8,580.4L665.5,580.4L666.2,580.39L666.9,580.39L667.6,580.39L668.3,580.39L669,580.38L669.7,580.38L670.4,580.38L671.1,580.38L671.8,580.38L672.5,580.38L673.2,580.38L673.9,580.38L674.6,580.38L675.3,580.38L676,580.38L676.7,580.38L677.4,580.38L678.1,580.38L678.8,580.38L679.5,580.38L680.2,580.38L680.9,580.38L681.6,580.38L682.3,580.38L683,580.38L683.7,580.38L684.4,580.38L685.1,580.38L685.8,580.39L686.5,580.39L687.2,580.39L687.9,580.39L688.6,580.39L689.3,580.39L690,580.39L690.7,580.39L691.4,580.39L692.1,580.39L692.8,580.39L693.5,580.39L694.2,580.4L694.9,580.4L695.6,580.4L696.3,580.4L697,580.4L697.7,580.4L698.4,580.4L699.1,580.4L699.8,580.4L700.5,580.4L701.2,580.4L701.9,580.4L702.6,580.4L703.3,580.4L704,580.4L704.7,580.4L705.4,580.4L706.1,580.4L706.8,580.4L707.5,580.4L708.2,580.4L708.9,580.41L709.6,580.41L710.3,580.41L711,580.41L711.7,580.41L712.4,580.41L713.1,580.41L713.8,580.41L714.5,580.41L715.2,580.41L715.9,580.41L716.6,580.41L717.3,580.41L718,580.41L718.7,580.41L719.4,580.41L720.1,580.41L720.8,580.41L721.5,580.41L722.2,580.41L722.9,580.41L723.6,580.41L724.3,580.41L725,580.41L725.7,580.41L726.4,580.41L727.1,580.41L727.8,580.41L728.5,580.41L729.2,580.41L729.9,580.41L730.6,580.41L731.3,580.41L732,580.41L732.7,580.41L733.4,580.41L734.1,580.41L734.8,580.41L735.5,580.41L736.2,580.41L736.9,580.41L737.6,580.41L738.3,580.41L739,580.41L739.7,580.41L740.4,580.41L741.1,580.41L741.8,580.41L742.5,580.41L743.2,580.41L743.9,580.41L744.6,580.41L745.3,580.41L746,580.41L746.7,580.41L747.4,580.41L748.1,580.41L748.8,580.41L749.5,580.41L750.2,580.41L750.9,580.41L751.6,580.41L752.3,580.41L753,580.41L753.7,580.41L754.4,580.41L755.1,580.41L755.8,580.41L756.5,580.41L757.2,580.41L757.9,580.41L758.6,580.41L759.3,580.41L760,580.41L760.7,580.41L761.4,580.41L762.1,580.41L762.8,580.41L763.5,580.41L764.2,580.41L764.9,580.41L765.6,580.41L766.3,580.41L767,580.41L767.7,580.41L768.4,580.41L769.1,580.41L769.8,580.41L770.5,580.41L771.2,580.41L771.9,580.41L772.6,580.41L773.3,580.41L774,580.41L774.7,580.41L775.4,580.41L776.1,580.41L776.8,580.41L777.5,580.41L778.2,580.41L778.9,580.41L779.6,580.41L780.3,580.41L781,580.41L781.7,580.41L782.4,580.41L783.1,580.41L783.8,580.41L784.5,580.41L785.2,580.41L785.9,580.41L786.6,580.41L786.8,580.41"/>
<path class="tick" d="M491.1,513.5L495.5,514.65L495.5,515.35L491.1,516.5Z"/>
<path class="tick" d="M786.8,513.5L782.4,514.65L782.4,515.35L786.8,516.5Z"/>
<path class="tick" d="M491.1,436.25L495.5,437.4L495.5,438.1L491.1,439.25Z"/>
<path class="tick" d="M786.8,436.25L782.4,437.4L782.4,438.1L786.8,439.25Z"/>
<path class="tick" d="M637.5,593.65L638.65,589.25L639.35,589.25L640.5,593.65Z"/>
<path class="tick" d="M637.5,358.95L638.65,363.35L639.35,363.35L640.5,358.95Z"/>
<rect class="ax" opacity="0.55" x="491.1" y="358.95" width="295.7" height="234.7" rx="1.6"/>
<text class="tk" text-anchor="end" transform="rotate(0.03 482.9 600.78)" x="482.9" y="600.78">0</text>
<text class="tk" text-anchor="end" transform="rotate(0.03 482.9 522.97)" x="482.9" y="522.97">20</text>
<text class="tk" text-anchor="end" transform="rotate(0.03 482.9 445.15)" x="482.9" y="445.15">40</text>
<text class="tk" text-anchor="end" transform="rotate(0.03 482.9 367.33)" x="482.9" y="367.33">60</text>
<text class="tk" text-anchor="middle" transform="rotate(0.03 492.4 622.5)" x="492.4" y="622.5">0</text>
<text class="tk" text-anchor="middle" transform="rotate(0.03 639.3 622.5)" x="639.3" y="622.5">0.5</text>
<text class="tk" text-anchor="middle" transform="rotate(0.03 786.2 622.5)" x="786.2" y="622.5">1</text>
<text class="tt" text-anchor="middle" transform="rotate(0.03 640.5 348.3)" x="640.5" y="348.3">d</text>
</g>
<text class="lb" xml:space="preserve" transform="rotate(0.03 229.23 654.6)" x="171.25 181.65 188.59 212.49 227.07 235.59 246.26 259.49 274.92 287.2" y="654.6 654.6 654.6 654.6 654.6 654.6 654.6 654.6 654.6 654.6">time (sec)</text>
<text class="lb" xml:space="preserve" transform="rotate(0.03 635.03 654.6)" x="577.05 587.45 594.39 618.29 632.87 641.39 652.06 665.29 680.72 693" y="654.6 654.6 654.6 654.6 654.6 654.6 654.6 654.6 654.6 654.6">time (sec)</text>
<text class="lb" xml:space="preserve" transform="translate(37.8,0) rotate(-90)" x="-188.39 -182.19 -171.61 -161.45 -152.21 -143.04 -127.4" y="0 0 0 0 0 0 0">I(t) <tspan font-family="'Liberation Serif','DejaVu Serif',serif" font-style="italic" font-size="23.5" stroke="none" fill="#222">μ</tspan>A</text>
<text class="lb" xml:space="preserve" transform="translate(419.6,0) rotate(-90)" x="-203.15 -185.49 -173.84 -165.08 -153.35 -144.11 -137.64 -112.8" y="0 11.7 0 0 0 0 0 0">V<tspan font-size="17.8">e</tspan>(t) mV</text>
<text class="lb" xml:space="preserve" transform="translate(20.15,0) rotate(-90)" x="-528.75 -510.58 -504.64 -493.86 -484.05 -474.81 -467.76 -443.2" y="0 11.7 0 0 0 0 0 0">V<tspan font-size="17.8">i</tspan>(t) mV</text>
<text class="lb" xml:space="preserve" transform="translate(432.6,0) rotate(-90)" x="-525.75 -513.89 -502.64 -492.42 -482.08 -472.83 -466.14 -448.46 -438.67" y="0 11.7 0 0 0 0 0 -10.8 -10.8">r<tspan font-size="17.8">e</tspan>(t) s<tspan font-size="17.8" fill="#dedede" stroke="none">-</tspan><tspan font-size="17.8">1</tspan></text>
</svg>
</body></html>
